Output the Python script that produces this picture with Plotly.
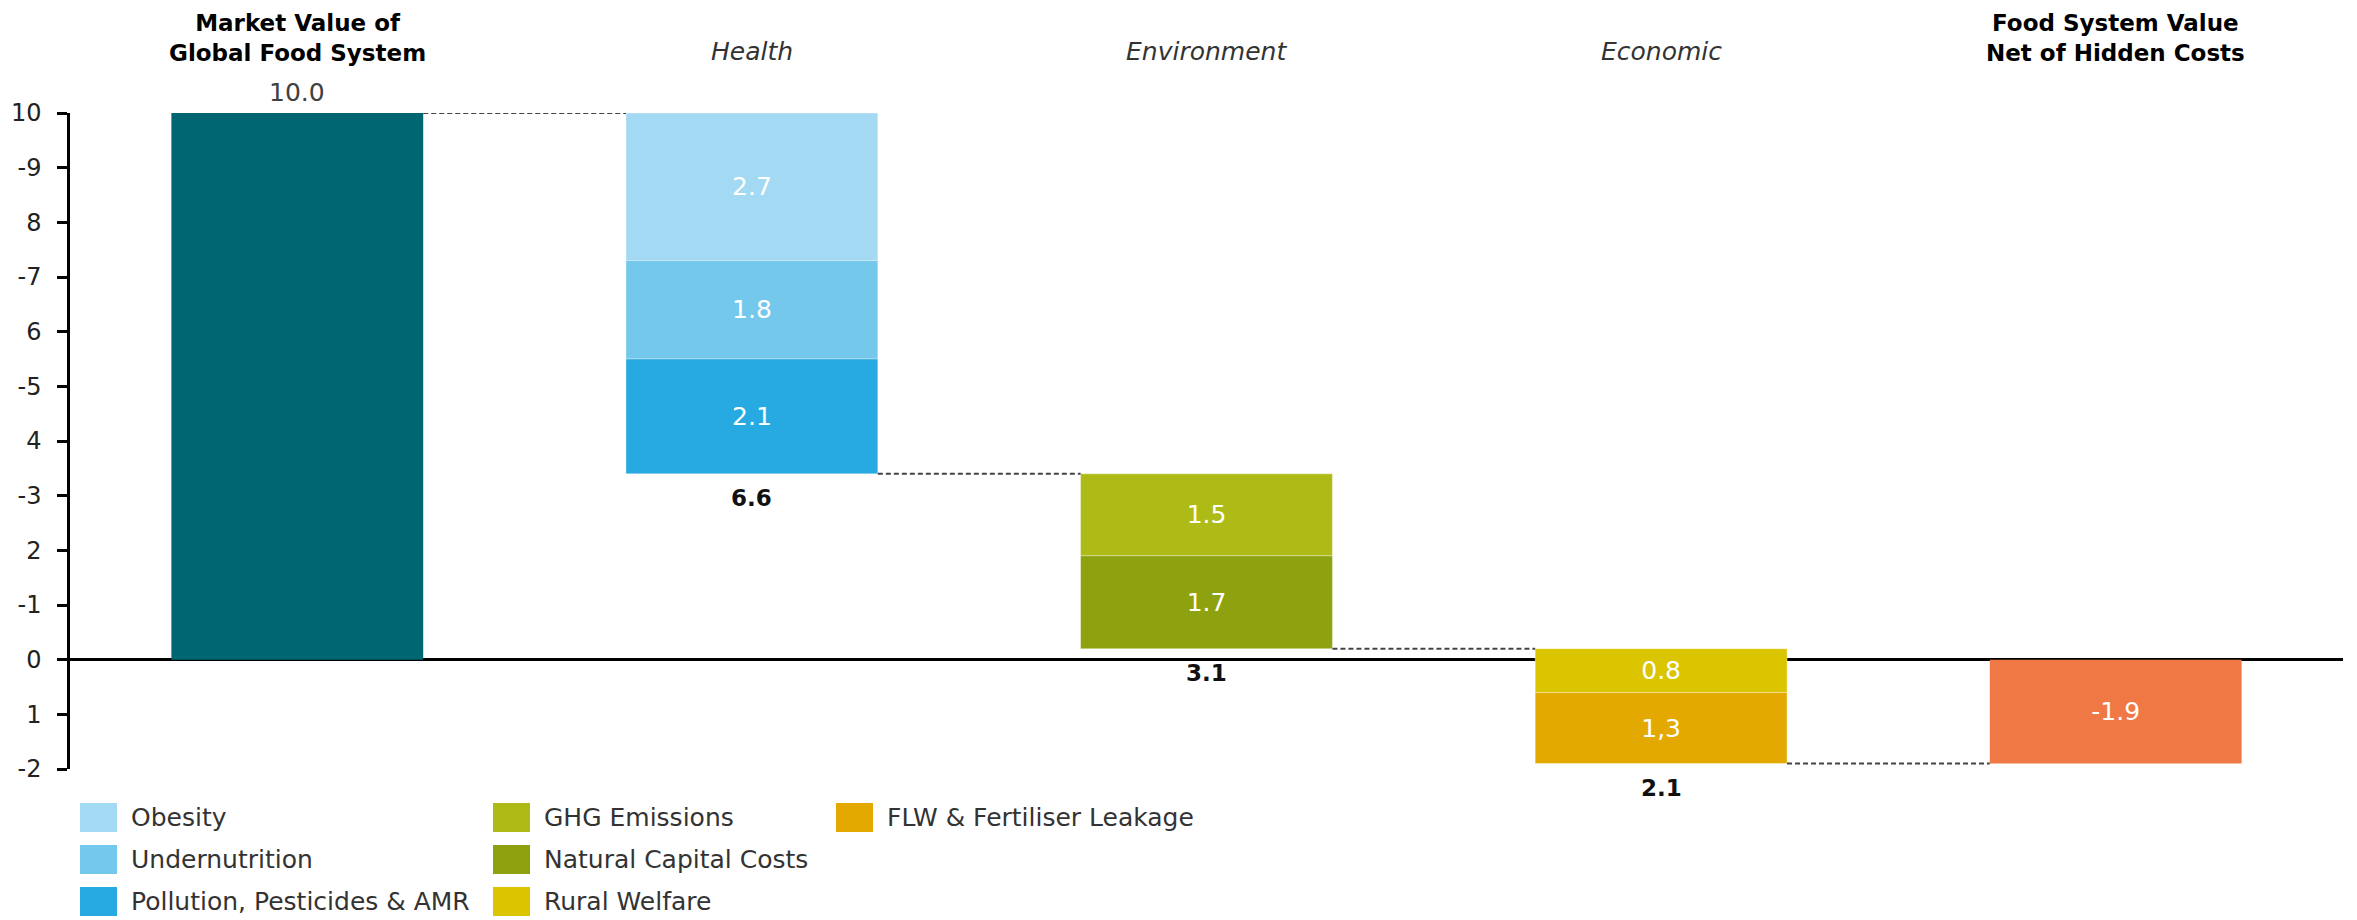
import plotly.graph_objects as go

# ---------------- data ----------------
categories = ["Market Value of Global Food System", "Health", "Environment",
              "Economic", "Food System Value Net of Hidden Costs"]
header_text = ["<b>Market Value of<br>Global Food System</b>", "<i>Health</i>",
               "<i>Environment</i>", "<i>Economic</i>",
               "<b>Food System Value<br>Net of Hidden Costs</b>"]

market_value = 10.0
market_label = "10.0"

# hidden cost components (category index, name, value, label, colour)
seg_names = ["Obesity", "Undernutrition", "Pollution, Pesticides & AMR",
             "GHG Emissions", "Natural Capital Costs",
             "Rural Welfare", "FLW & Fertiliser Leakage"]
seg_cat = [1, 1, 1, 2, 2, 3, 3]
seg_values = [2.7, 1.8, 2.1, 1.5, 1.7, 0.8, 1.3]
seg_labels = ["2.7", "1.8", "2.1", "1.5", "1.7", "0.8", "1,3"]
seg_colors = ["#A3D9F2", "#74C8EC", "#27A9E1", "#AEBB17", "#8EA20F",
              "#DBC500", "#E3A900"]

group_totals = ["6.6", "3.1", "2.1"]          # labels under Health/Env/Econ

net_value = -1.9
net_label = "-1.9"

market_color = "#006672"
net_color = "#EF7845"

ytick_vals = [10, 9, 8, 7, 6, 5, 4, 3, 2, 1, 0, -1, -2]
ytick_text = ["10", "-9", "8", "-7", "6", "-5", "4", "-3", "2", "-1", "0", "1", "-2"]

# legend layout: columns of series indices
legend_cols = [[0, 1, 2], [3, 4, 5], [6]]

# ---------------- geometry helpers ----------------
W, H = 2357, 920
ML, MR, MT, MB = 70, 14, 113, 151
PW, PH = W - ML - MR, H - MT - MB
BAR_W = 0.554
FONT = "DejaVu Sans"


def px_x(px):
    return (px - ML) / PW


def px_y(py):
    return (H - MB - py) / PH


fig = go.Figure()

# market bar
fig.add_trace(go.Bar(x=[0], y=[market_value], base=[0], width=BAR_W,
                     marker=dict(color=market_color, line=dict(width=0)),
                     showlegend=False, hoverinfo="skip"))

# hidden-cost segments: waterfall down from market value
level = market_value
group_bottom = {}
for i, (c, v) in enumerate(zip(seg_cat, seg_values)):
    level = level - v
    fig.add_trace(go.Bar(x=[c], y=[v], base=[level], width=BAR_W, name=seg_names[i],
                         marker=dict(color=seg_colors[i],
                                     line=dict(width=1, color="rgba(255,255,255,0.35)")),
                         text=[seg_labels[i]], textposition="inside",
                         insidetextanchor="middle",
                         textfont=dict(family=FONT, size=25, color="white"),
                         showlegend=False, hoverinfo="skip"))
    group_bottom[c] = level

# net bar
fig.add_trace(go.Bar(x=[4], y=[net_value], base=[0], width=BAR_W,
                     marker=dict(color=net_color, line=dict(width=0)),
                     text=[net_label], textposition="inside", insidetextanchor="middle",
                     textfont=dict(family=FONT, size=25, color="white"),
                     showlegend=False, hoverinfo="skip"))

# connectors
levels = [market_value] + [group_bottom[c] for c in (1, 2, 3)]
for i, lv in enumerate(levels):
    fig.add_shape(type="line", xref="x", yref="y",
                  x0=i + BAR_W / 2, x1=i + 1 - BAR_W / 2, y0=lv, y1=lv,
                  line=dict(color="#444444", width=2, dash="5px,3px"))

annotations = []
# label above market bar
annotations.append(dict(x=0, y=market_value, xref="x", yref="y", text=market_label,
                        showarrow=False, yanchor="bottom", yshift=4,
                        font=dict(family=FONT, size=25, color="#404040")))
# totals under groups
for c, t in zip((1, 2, 3), group_totals):
    annotations.append(dict(x=c, y=group_bottom[c], xref="x", yref="y",
                            text="<b>" + t + "</b>", showarrow=False,
                            yanchor="middle", yshift=-24,
                            font=dict(family=FONT, size=23, color="#111111")))
# headers
for i, h in enumerate(header_text):
    bold = h.startswith("<b>")
    annotations.append(dict(x=i, y=px_y(68), xref="x", yref="paper", text=h,
                            showarrow=False, yanchor="bottom",
                            font=dict(family=FONT, size=23 if bold else 25,
                                      color="#000000" if bold else "#333333")))

# custom legend
col_swatch_left = [80, 493, 836]
row_center = [817.5, 859.5, 901.5]
for ci, col in enumerate(legend_cols):
    for ri, si in enumerate(col):
        x0 = col_swatch_left[ci]
        yc = row_center[ri]
        fig.add_shape(type="rect", xref="paper", yref="paper",
                      x0=px_x(x0), x1=px_x(x0 + 37),
                      y0=px_y(yc + 14.5), y1=px_y(yc - 14.5),
                      fillcolor=seg_colors[si], line=dict(width=0))
        annotations.append(dict(x=px_x(x0 + 49), y=px_y(yc), xref="paper", yref="paper",
                                text=seg_names[si], showarrow=False,
                                xanchor="left", yanchor="middle",
                                font=dict(family=FONT, size=25, color="#333333")))

fig.update_layout(
    width=W, height=H,
    margin=dict(l=ML, r=MR, t=MT, b=MB, pad=0),
    paper_bgcolor="white", plot_bgcolor="white",
    barmode="overlay",
    showlegend=False,
    annotations=annotations,
    font=dict(family=FONT, size=23, color="#222222"),
    xaxis=dict(range=[-0.5, 4.5], showticklabels=False, showline=False,
               showgrid=False, zeroline=False, ticks="", tickvals=[0, 1, 2, 3, 4]),
    yaxis=dict(range=[-2, 10], tickvals=ytick_vals, ticktext=ytick_text,
               showgrid=False, zeroline=True, zerolinecolor="#000000", zerolinewidth=3,
               showline=True, linecolor="#000000", linewidth=2.5,
               ticks="outside", ticklen=10, tickwidth=2.5, tickcolor="#000000",
               ticklabelstandoff=11,
               tickfont=dict(family=FONT, size=24, color="#222222")),
)

fig.write_html("out.html", config={"displayModeBar": False},
               post_script="document.body.style.margin='0';document.body.style.overflow='hidden';")
